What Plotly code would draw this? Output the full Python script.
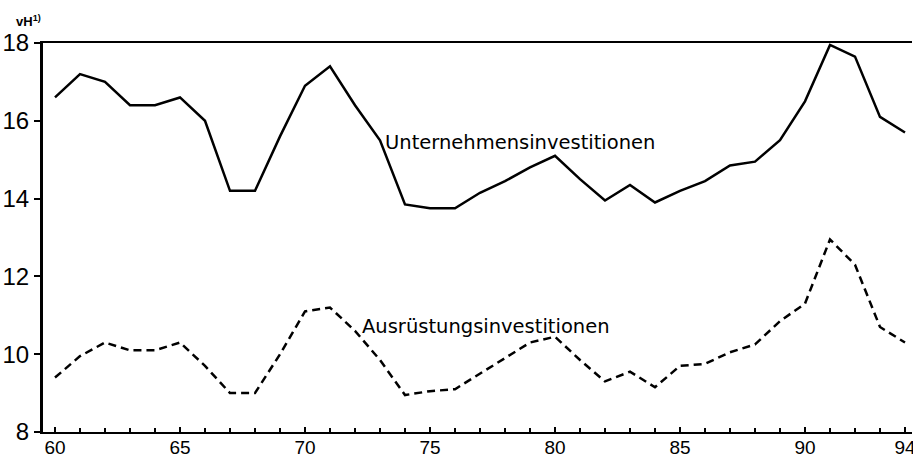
import plotly.graph_objects as go

years = list(range(60, 95))
unternehmen = [16.6, 17.2, 17.0, 16.4, 16.4, 16.6, 16.0, 14.2, 14.2, 15.6,
               16.9, 17.4, 16.4, 15.5, 13.85, 13.75, 13.75, 14.15, 14.45, 14.8,
               15.1, 14.5, 13.95, 14.35, 13.9, 14.2, 14.45, 14.85, 14.95, 15.5,
               16.5, 17.95, 17.65, 16.1, 15.7]
ausruestung = [9.4, 9.95, 10.3, 10.1, 10.1, 10.3, 9.7, 9.0, 9.0, 10.0,
               11.1, 11.2, 10.6, 9.85, 8.95, 9.05, 9.1, 9.5, 9.9, 10.3,
               10.45, 9.85, 9.3, 9.55, 9.15, 9.7, 9.75, 10.05, 10.25, 10.85,
               11.3, 12.95, 12.3, 10.7, 10.3]
x_ticks = [60, 65, 70, 75, 80, 85, 90, 94]
y_ticks = [8, 10, 12, 14, 16, 18]
label_u = "Unternehmensinvestitionen"
label_a = "Ausrüstungsinvestitionen"

fig = go.Figure()
fig.add_trace(go.Scatter(x=years, y=unternehmen, mode="lines",
                         line=dict(color="black", width=2.5), name=label_u,
                         showlegend=False))
fig.add_trace(go.Scatter(x=years, y=ausruestung, mode="lines",
                         line=dict(color="black", width=2.5, dash="8px,5px"),
                         name=label_a, showlegend=False))

fig.add_annotation(x=73.1, y=15.45, text=label_u, showarrow=False,
                   xanchor="left", yanchor="middle",
                   font=dict(family="DejaVu Sans", size=19.5, color="black"))
fig.add_annotation(x=72.2, y=10.72, text=label_a, showarrow=False,
                   xanchor="left", yanchor="middle",
                   font=dict(family="DejaVu Sans", size=19.5, color="black"))
fig.add_annotation(xref="paper", yref="paper", x=-0.033, y=1.03, text="<b>vH<sup>1)</sup></b>",
                   showarrow=False, xanchor="left", yanchor="bottom",
                   font=dict(family="Liberation Sans", size=13, color="black"))

fig.update_layout(
    width=913, height=458,
    margin=dict(l=43, r=1, t=43, b=26),
    paper_bgcolor="white", plot_bgcolor="white",
    font=dict(family="Liberation Sans", color="black"),
    xaxis=dict(range=[59.52, 94.28], tickvals=x_ticks, ticktext=[str(v) for v in x_ticks],
               showgrid=False, zeroline=False, showline=True, linecolor="black",
               linewidth=2, mirror=True, ticks="inside", ticklen=5, tickwidth=2,
               tickcolor="black", tickfont=dict(size=19), automargin=False,
               ticklabelstandoff=-3, ticklabeloverflow="allow",
               minor=dict(dtick=1, ticks="inside", ticklen=4, tickwidth=1.5, tickcolor="black")),
    yaxis=dict(range=[8, 18], tickvals=y_ticks, showgrid=False, zeroline=False,
               showline=True, linecolor="black", linewidth=3, ticks="outside",
               ticklen=6, tickwidth=2, tickcolor="black", tickfont=dict(size=24),
               automargin=False, ticklabelstandoff=0),
)

fig.write_html("out.html", config={"displayModeBar": False},
               post_script="document.body.style.margin='0';document.body.style.overflow='hidden';")
